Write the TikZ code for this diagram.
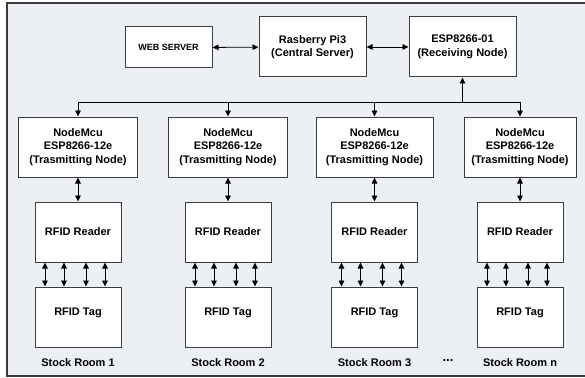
\documentclass[tikz,border=0pt]{standalone}
\usepackage{fontspec}
\setmainfont{Liberation Sans}
\usetikzlibrary{arrows.meta}
\definecolor{panelbg}{RGB}{236,239,244}
\definecolor{boxline}{RGB}{60,60,60}
\begin{document}
\begin{tikzpicture}[x=1pt,y=-1pt,>={Triangle[length=6pt,width=5.5pt]},
		font=\fontsize{11}{13.5}\selectfont\bfseries]
	\tikzset{blk/.style={draw=boxline,fill=white,line width=1pt,align=center,inner sep=0pt,
			minimum width=86pt,minimum height=60pt},
		tagbox/.style={blk,text depth=11pt},
		link/.style={black,line width=0.9pt}}
	\useasboundingbox (0,0) rectangle (585,377);
	\fill[panelbg] (7,3) rectangle (585,376);
	\draw[boxline,line width=1.2pt] (585,3)--(7,3)--(7,376)--(585,376);
	% top row
	\node[blk,minimum width=87pt,minimum height=41pt,font=\fontsize{9}{11}\selectfont\bfseries] (web) at (168.5,47.5) {WEB SERVER};
	\node[blk,minimum width=107pt] (rpi) at (312.5,47) {Rasberry Pi3\\(Central Server)};
	\node[blk,minimum width=107pt] (esp) at (462.5,47) {ESP8266-01\\(Receiving Node)};
	\draw[link,<->] (web)--(rpi);
	\draw[link,<->] (rpi)--(esp);
	% bus
	\coordinate (bus-l) at (78,102);
	\coordinate (bus-r) at (520,102);
	\draw[link] (bus-l)--(bus-r);
	\draw[link,->] (esp.south |- bus-l)--(esp.south);
	% stock rooms
	\foreach \k/\cx/\w in {1/78/119,2/228/119,3/374.5/117,n/520/112}{
		\node[blk,minimum width=\w pt] (mcu-\k) at (\cx,147) {NodeMcu\\ESP8266-12e\\(Trasmitting Node)};
		\node[blk] (rdr-\k) at (\cx,232) {RFID Reader};
		\node[tagbox] (tag-\k) at (\cx,317) {RFID Tag};
		\node (room-\k) at (\cx,363) {Stock Room \k};
		\draw[link,->] (mcu-\k.north |- bus-l)--(mcu-\k.north);
		\draw[link,<->] (mcu-\k)--(rdr-\k);
		\foreach \dx in {-33,-14,8,27}
			\draw[link,<->] ([xshift=\dx pt]rdr-\k.south)--([xshift=\dx pt]tag-\k.north);
	}
	\node[font=\fontsize{13}{13}\selectfont\bfseries] (dots) at (448,361) {...};
\end{tikzpicture}
\end{document}
